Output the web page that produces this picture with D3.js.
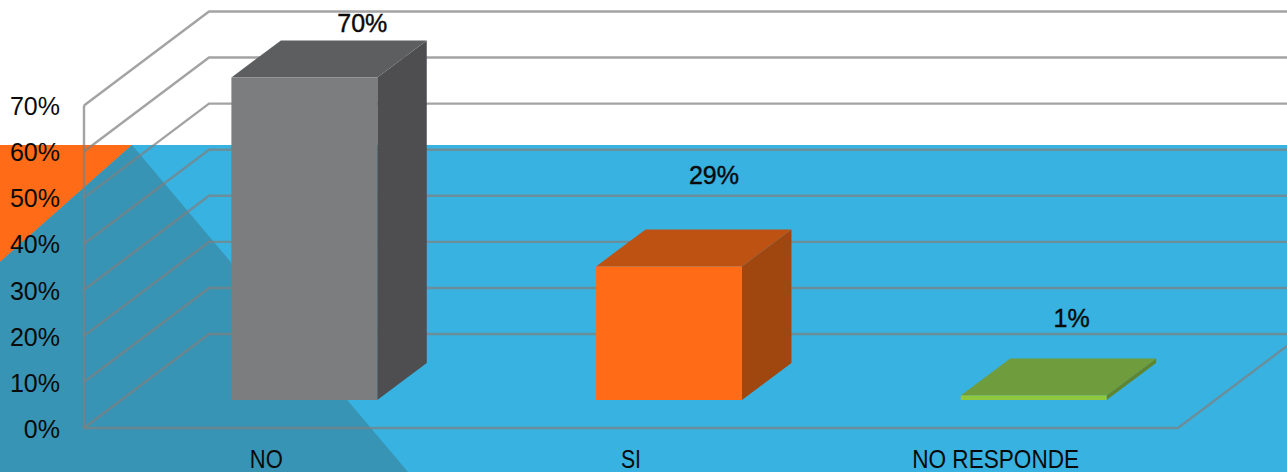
<!DOCTYPE html>
<html><head><meta charset="utf-8">
<script src="https://cdn.jsdelivr.net/npm/d3@7"></script>
<style>html,body{margin:0;padding:0;background:#fff;overflow:hidden}svg{display:block}text{font-family:"Liberation Sans",sans-serif;fill:#0a0a0a}</style>
</head><body><svg id="c" width="1287" height="472"></svg>
<script>
const categories = ["NO","SI","NO RESPONDE"];
const values = [70,29,1];
const valueLabels = ["70%","29%","1%"];
const faceColors = ["#7C7D7F","#FF6B17","#8FC73E"];
const topColors = ["#5D5E60","#BD5213","#6F9C3C"];
const sideColors = ["#4E4E50","#A0460F","#5F8530"];
const yTicks = [0,10,20,30,40,50,60,70];
const labelOffsets = [[96,-9],[83,-45],[76,-31]];
const categoryWidths = [33,20,167];

const svg = d3.select("#c");
const y = d3.scaleLinear().domain([0,70]).range([428,105.5]);
const x = d3.scaleBand().domain(categories).range([84,1178]);
const wall = {dx:125,dy:-94};       // floor depth in screen px
const barDepth = {dx:49.5,dy:-37};
const barShift = {dx:38,dy:-28};
const barW = x.bandwidth()*0.4;
const line = d3.line();

// backdrop
const bg = svg.append("g");
bg.append("rect").attr("y",145).attr("width",1287).attr("height",327).attr("fill","#38B2E1");
bg.append("path").attr("d",line([[0,145],[132,145],[0,262]])).attr("fill","#FF6B17");
bg.append("path").attr("d",line([[132,145],[408,472],[0,472],[0,262]])).attr("fill","#3894B4");

// grid
const grid = svg.append("g").attr("fill","none").attr("stroke","#808080").attr("stroke-opacity",0.72).attr("stroke-width",2.4);
grid.selectAll("path.g").data(yTicks).join("path").attr("class","g")
  .attr("d",t=>line([[84,y(t)],[84+wall.dx,y(t)+wall.dy],[1290,y(t)+wall.dy]]));
grid.append("path").attr("d",line([[84,y(70)],[84,y(0)],[1178,y(0)],[1178+wall.dx,y(0)+wall.dy]]));

// bars
const bars = svg.append("g").selectAll("g").data(categories).join("g");
const fx = (d)=>x(d)+x.bandwidth()/2-barW/2+barShift.dx;
const base = y(0)+barShift.dy;
const topY = (i)=>base-(y(0)-y(values[i]));
bars.append("path").attr("fill",(d,i)=>sideColors[i]).attr("d",(d,i)=>{const r=fx(d)+barW;return line([[r,topY(i)],[r+barDepth.dx,topY(i)+barDepth.dy],[r+barDepth.dx,base+barDepth.dy],[r,base]])+"Z"});
bars.append("path").attr("fill",(d,i)=>topColors[i]).attr("d",(d,i)=>{const l=fx(d),t=topY(i);return line([[l,t],[l+barDepth.dx,t+barDepth.dy],[l+barW+barDepth.dx,t+barDepth.dy],[l+barW,t]])+"Z"});
bars.append("rect").attr("fill",(d,i)=>faceColors[i]).attr("x",fx).attr("y",(d,i)=>topY(i)).attr("width",barW).attr("height",(d,i)=>base-topY(i));

// value labels
svg.append("g").selectAll("text").data(categories).join("text")
  .attr("x",(d,i)=>x(d)+x.bandwidth()/2+labelOffsets[i][0])
  .attr("y",(d,i)=>topY(i)+barDepth.dy+labelOffsets[i][1])
  .attr("text-anchor","middle").attr("font-size",25).attr("stroke","#0a0a0a").attr("stroke-width",0.4)
  .text((d,i)=>valueLabels[i]);

// axes
const yAxis = svg.append("g").attr("transform","translate(84,0)")
  .call(d3.axisLeft(y).tickValues(yTicks).tickFormat(d=>d+"%").tickSize(0).tickPadding(24));
yAxis.select(".domain").remove();
yAxis.selectAll("text").attr("font-size",25).attr("dy","0.37em").attr("font-family",'"Liberation Sans",sans-serif').attr("fill","#0a0a0a");
const xAxis = svg.append("g").attr("transform","translate(0,428)")
  .call(d3.axisBottom(x).tickSize(0).tickPadding(22));
xAxis.select(".domain").remove();
xAxis.selectAll("text").attr("font-size",25).attr("font-family",'"Liberation Sans",sans-serif').attr("fill","#0a0a0a")
  .attr("lengthAdjust","spacingAndGlyphs").attr("textLength",(d,i)=>categoryWidths[i]);
</script></body></html>
